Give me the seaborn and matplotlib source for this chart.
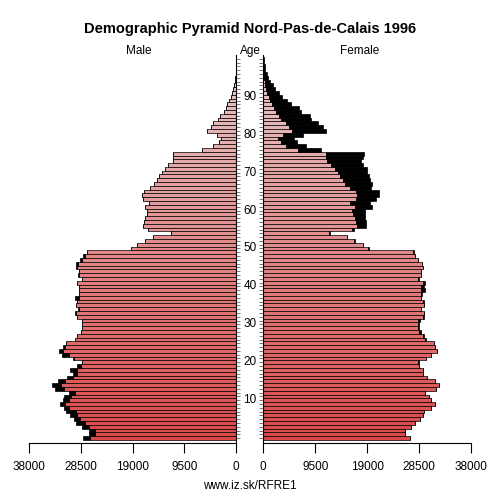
import numpy as np
import pandas as pd
import matplotlib
matplotlib.use("Agg")
import matplotlib.pyplot as plt
import matplotlib.transforms as mtransforms
import seaborn as sns

# population by single year of age, 0..100
ages = list(range(101))
male = [28000, 26950, 26950, 28300, 29330, 29640, 30430, 31220, 31530, 32260,
        31770, 31530, 30560, 33240, 33670, 32690, 31040, 29830, 30430, 29100,
        28300, 29830, 31840, 32450, 31770, 31160, 29520, 29210, 28480, 28300,
        28300, 28300, 29210, 29520, 28910, 29400, 29100, 29580, 28730, 28730,
        28730, 29100, 28240, 29030, 28730, 29330, 29330, 28600, 28000, 27380,
        19210, 18240, 16650, 15300, 12010, 16160, 17130, 16890, 16770, 16400,
        16280, 16770, 15920, 17010, 17200, 16890, 15790, 15000, 14570, 14090,
        13660, 13050, 12440, 11650, 11530, 11530, 6280, 4200, 3230, 2740,
        3590, 5300, 4690, 4200, 3290, 2930, 2250, 1950, 1650, 1280,
        1030, 730, 550, 370, 250, 180, 120, 80, 50, 30,
        20]
female = [26850, 25870, 25870, 26900, 27700, 28550, 29170, 29400, 30630, 31360,
          30560, 30270, 29460, 31550, 32100, 31360, 29900, 29170, 29100, 28370,
          28500, 29720, 30690, 31660, 31360, 31240, 29720, 29280, 28730, 28370,
          28500, 28700, 29400, 29280, 28800, 29280, 29280, 28860, 28980, 29460,
          29400, 29530, 28490, 28800, 28800, 29100, 28980, 28250, 27760, 27450,
          19220, 18300, 16840, 15370, 12210, 16600, 18790, 18790, 18670, 18670,
          18550, 19950, 19520, 20620, 21170, 21050, 19650, 19770, 19520, 19280,
          18920, 18920, 18190, 17820, 18300, 18430, 10610, 7810, 6220, 5670,
          7210, 11410, 10870, 10070, 8670, 8550, 6840, 6590, 5010, 4280,
          3360, 2820, 2140, 1710, 1230, 860, 600, 370, 250, 150,
          80]
x_ticks = [0, 9500, 19000, 28500, 38000]
age_labels = [10, 20, 30, 40, 50, 60, 70, 80, 90]

df = pd.DataFrame({"age": ages, "male": male, "female": female})
df["common"] = np.minimum(df["male"], df["female"])
df["lbl"] = df["age"].astype(str)

# red at young ages fading to pale pink at old ages
c0 = np.array([0.86, 0.28, 0.28])
c1 = np.array([0.91, 0.80, 0.80])
colors = [tuple(c0 + (c1 - c0) * a / 100) for a in ages]

sns.set_style("white")
plt.rcParams["font.family"] = ["Liberation Sans", "DejaVu Sans"]
plt.rcParams["text.color"] = "black"
plt.rcParams["xtick.color"] = "black"
plt.rcParams["axes.edgecolor"] = "black"

fig = plt.figure(figsize=(5, 5), dpi=100)
ax_m = fig.add_axes([0.0574, 0.1146, 0.4152, 0.7754])
ax_f = fig.add_axes([0.5266, 0.1146, 0.4160, 0.7754])

for ax, col in [(ax_m, "male"), (ax_f, "female")]:
    sns.barplot(data=df, x="common", y="age", hue="lbl", palette=colors,
                saturation=1, orient="h", native_scale=True, dodge=False,
                width=1, errorbar=None, legend=False, edgecolor="black",
                linewidth=0.5, ax=ax)
    extra = (df[col] - df["common"]).clip(lower=0)
    ax.barh(df["age"], extra, left=df["common"], height=1,
            color="black", edgecolor="black", linewidth=0.5)
    ax.set_ylim(-1.2, 101)
    ax.set_xlabel("")
    ax.set_ylabel("")
    ax.set_xticks(x_ticks)
    ax.set_xticklabels([str(t) for t in x_ticks])
    ax.tick_params(axis="x", direction="out", length=7, width=0.8,
                   labelsize=8.5, pad=6, bottom=True, colors="black")
    ax.spines["top"].set_visible(False)
    ax.spines["bottom"].set_linewidth(0.8)
    ax.set_yticks(range(0, 101))
    ax.set_yticks(age_labels, minor=True)
    ax.set_yticklabels([])

ax_m.set_xlim(38000, 0)
ax_f.set_xlim(0, 38000)

ax_m.spines["left"].set_visible(False)
ax_m.spines["right"].set_linewidth(0.8)
ax_m.yaxis.tick_right()
ax_m.tick_params(axis="y", which="major", direction="out", length=3,
                 width=0.6, colors="#666666", right=True, left=False)
ax_m.tick_params(axis="y", which="minor", direction="out", length=4,
                 width=0.8, colors="black", right=True, left=False)

ax_f.spines["right"].set_visible(False)
ax_f.spines["left"].set_linewidth(0.8)
ax_f.yaxis.tick_left()
ax_f.tick_params(axis="y", which="major", direction="out", length=3,
                 width=0.6, colors="#666666", left=True, right=False)
ax_f.tick_params(axis="y", which="minor", direction="out", length=4,
                 width=0.8, colors="black", left=True, right=False)

trans = mtransforms.blended_transform_factory(ax_f.transAxes, ax_f.transData)
for a in age_labels:
    ax_f.text(-0.064, a, str(a), transform=trans, ha="center", va="center",
              fontsize=8.5, color="black")

fig.text(0.5, 0.942, "Demographic Pyramid Nord-Pas-de-Calais 1996",
         ha="center", va="center", fontsize=10.5, fontweight="bold")
fig.text(0.278, 0.898, "Male", ha="center", va="center", fontsize=8.5)
fig.text(0.5, 0.898, "Age", ha="center", va="center", fontsize=8.5)
fig.text(0.72, 0.898, "Female", ha="center", va="center", fontsize=8.5)
fig.text(0.5, 0.028, "www.iz.sk/RFRE1", ha="center", va="center",
         fontsize=8.5)

fig.savefig("out.png", dpi=100)
